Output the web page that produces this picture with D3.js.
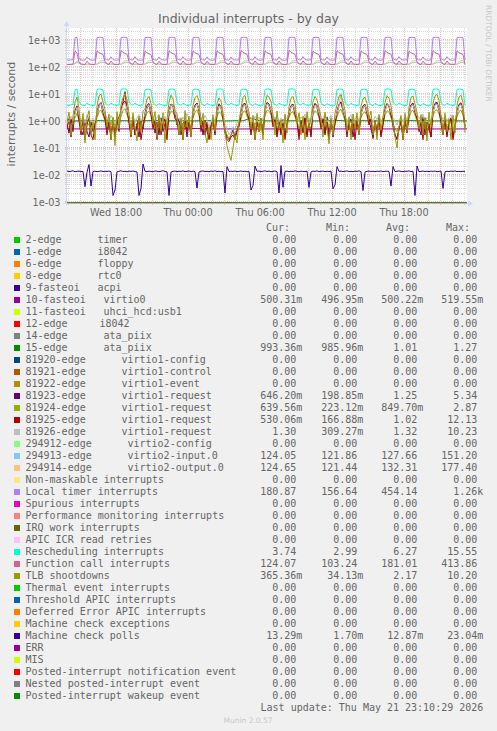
<!DOCTYPE html>
<html><head><meta charset="utf-8">
<script src="https://cdn.jsdelivr.net/npm/d3@7"></script>
<style>body{margin:0;background:#f0f0f0;overflow:hidden}svg{display:block}</style>
</head><body>
<svg id="chart" width="497" height="731"></svg>
<script>
// ---------------- DATA ----------------
const title = "Individual interrupts - by day";
const yUnit = "interrupts / second";
const yTickValues = [1e-3, 1e-2, 1e-1, 1, 10, 100, 1000];
const yTickLabels = ["1e-03", "1e-02", "1e-01", "1e+00", "1e+01", "1e+02", "1e+03"];
const xTickTimes = [new Date(2026,4,20,18), new Date(2026,4,21,0), new Date(2026,4,21,6), new Date(2026,4,21,12), new Date(2026,4,21,18)];
const xTickLabels = ["Wed 18:00", "Thu 00:00", "Thu 06:00", "Thu 12:00", "Thu 18:00"];
const lastUpdate = "Last update: Thu May 21 23:10:29 2026";

const legendNames = ["2-edge","1-edge","6-edge","8-edge","9-fasteoi","10-fasteoi","11-fasteoi","12-edge","14-edge","15-edge",
 "81920-edge","81921-edge","81922-edge","81923-edge","81924-edge","81925-edge","81926-edge","294912-edge","294913-edge","294914-edge",
 "Non-maskable interrupts","Local timer interrupts","Spurious interrupts","Performance monitoring interrupts","IRQ work interrupts",
 "APIC ICR read retries","Rescheduling interrupts","Function call interrupts","TLB shootdowns","Thermal event interrupts",
 "Threshold APIC interrupts","Deferred Error APIC interrupts","Machine check exceptions","Machine check polls","ERR","MIS",
 "Posted-interrupt notification event","Nested posted-interrupt event","Posted-interrupt wakeup event"];
const legendDescs = ["timer","i8042","floppy","rtc0","acpi","virtio0","uhci_hcd:usb1","i8042","ata_piix","ata_piix",
 "virtio1-config","virtio1-control","virtio1-event","virtio1-request","virtio1-request","virtio1-request","virtio1-request",
 "virtio2-config","virtio2-input.0","virtio2-output.0","","","","","","","","","","","","","","","","","","",""];
const legendCur = ["0.00","0.00","0.00","0.00","0.00","500.31m","0.00","0.00","0.00","993.36m","0.00","0.00","0.00","646.20m","639.56m","530.06m","1.30","0.00","124.05","124.65","0.00","180.87","0.00","0.00","0.00","0.00","3.74","124.07","365.36m","0.00","0.00","0.00","0.00","13.29m","0.00","0.00","0.00","0.00","0.00"];
const legendMin = ["0.00","0.00","0.00","0.00","0.00","496.95m","0.00","0.00","0.00","985.96m","0.00","0.00","0.00","198.85m","223.12m","166.88m","309.27m","0.00","121.86","121.44","0.00","156.64","0.00","0.00","0.00","0.00","2.99","103.24","34.13m","0.00","0.00","0.00","0.00","1.70m","0.00","0.00","0.00","0.00","0.00"];
const legendAvg = ["0.00","0.00","0.00","0.00","0.00","500.22m","0.00","0.00","0.00","1.01","0.00","0.00","0.00","1.25","849.70m","1.02","1.32","0.00","127.66","132.31","0.00","454.14","0.00","0.00","0.00","0.00","6.27","181.01","2.17","0.00","0.00","0.00","0.00","12.87m","0.00","0.00","0.00","0.00","0.00"];
const legendMax = ["0.00","0.00","0.00","0.00","0.00","519.55m","0.00","0.00","0.00","1.27","0.00","0.00","0.00","5.34","2.87","12.13","10.23","0.00","151.20","177.40","0.00","1.26k","0.00","0.00","0.00","0.00","15.55","413.86","10.20","0.00","0.00","0.00","0.00","23.04m","0.00","0.00","0.00","0.00","0.00"];

const palette = ["#00CC00","#0066B3","#FF8000","#FFCC00","#330099","#990099","#CCFF00","#FF0000","#808080","#008F00",
 "#00487D","#B35A00","#B38F00","#6B006B","#8FB300","#B30000","#BEBEBE","#80FF80","#80C9FF","#FFC080",
 "#FFE680","#AA80FF","#EE00CC","#FF8080","#666600","#FFBFFF","#00FFCC","#CC6699","#999900","#00CC00",
 "#0066B3","#FF8000","#FFCC00","#330099","#990099","#CCFF00","#FF0000","#808080","#008F00"];

// series sampled every 10 minutes (200 points)
const localTimer = [
 182,179,184,188,1220,1235,205,183,180,178,236,192,181,179,183,
 1240,1255,1250,1235,200,182,180,238,188,181,179,183,
 1245,1260,1252,1238,198,183,181,242,186,180,178,182,
 1235,1250,1248,1230,196,181,179,236,187,182,180,184,
 1250,1258,1255,1240,202,184,182,240,189,180,178,181,
 1242,1252,1249,1236,199,182,180,237,185,181,179,183,
 1238,1250,1246,1232,197,180,178,234,186,182,180,182,
 1246,1257,1253,1239,201,183,181,241,188,181,179,184,
 1240,1254,1250,1236,198,182,180,239,187,180,178,182,
 1248,1259,1255,1241,203,184,182,243,189,182,180,183,
 1236,1249,1245,1231,196,181,179,235,186,181,179,182,
 1244,1256,1251,1238,200,183,181,240,188,180,178,183,
 1241,1253,1249,1235,198,182,180,238,187,181,179,182,
 1247,1258,1254,1240,202,184,182,242,189,182,180,184,
 1239,1251,1247,1233,197,181,179,236,186,180,178,182,
 1245,1256,1252,1239,201,183,181,241,188,181,179,183,
 1243,1254,1250,1237,180.87];
const funcCall = [
 124,123,125,126,385,330,150,127,124,123,162,131,125,123,124,
 392,345,312,290,158,128,125,166,131,124,123,125,
 405,350,315,295,160,129,126,168,132,125,124,126,
 388,338,305,285,155,127,124,163,130,124,123,124,
 398,348,310,292,159,128,125,167,131,125,124,125,
 390,342,308,288,157,127,124,164,130,124,123,125,
 395,344,309,290,158,128,125,165,131,125,123,124,
 402,352,314,294,161,129,126,168,132,125,124,126,
 393,346,311,291,158,128,125,166,131,124,123,125,
 413,355,318,297,162,130,126,169,133,125,124,126,
 387,340,306,287,156,127,124,163,130,124,123,124,
 399,349,312,293,160,128,125,167,131,125,124,125,
 391,343,308,289,157,127,125,165,130,124,123,125,
 404,351,315,296,161,129,126,168,132,125,124,126,
 389,341,307,288,156,127,124,164,130,124,123,124,
 400,350,313,294,160,128,125,167,131,125,124,125,
 396,346,310,291,124.07];
const virtio2In = [
 124,125,124,126,132,146,138,127,125,124,126,125,124,125,124,
 126,134,148,151,140,129,125,127,125,124,125,124,
 125,133,146,150,139,128,125,126,125,124,125,124,
 126,135,147,149,141,129,126,127,125,124,125,125,
 125,134,148,151,140,128,125,126,124,125,124,125,
 126,133,146,150,139,129,125,127,125,124,125,124,
 125,134,147,150,140,128,126,126,125,124,125,125,
 126,135,148,151,141,129,125,127,125,124,125,124,
 125,133,146,149,139,128,125,126,124,125,124,125,
 126,134,147,151,140,129,126,127,125,124,125,124,
 125,133,146,150,139,128,125,126,125,124,125,125,
 126,135,148,151,141,129,125,127,125,124,125,124,
 125,134,147,150,140,128,126,126,124,125,124,125,
 126,133,146,149,139,129,125,127,125,124,125,124,
 125,134,148,151,140,128,125,126,125,124,125,125,
 126,135,147,150,141,129,126,127,125,124,125,124,
 125,134,147,150,124.05];
const virtio2Out = [
 125,124,126,125,140,170,150,128,125,126,125,124,125,126,125,
 128,150,172,176,160,134,126,129,126,125,126,125,
 127,148,170,174,158,133,126,128,125,126,125,126,
 128,151,173,177,161,135,127,129,126,125,126,125,
 127,149,171,175,159,133,126,128,126,125,125,126,
 128,150,172,176,160,134,126,129,125,126,126,125,
 127,148,170,173,158,132,125,128,126,125,125,126,
 128,151,173,177,161,135,127,129,126,125,126,125,
 127,149,171,175,159,133,126,128,125,126,125,126,
 128,150,172,176,160,134,126,129,126,125,126,125,
 127,148,170,174,158,133,126,128,126,125,125,126,
 128,151,173,177.4,161,135,127,129,125,126,126,125,
 127,149,171,175,159,133,126,128,126,125,125,126,
 128,150,172,176,160,134,126,129,126,125,126,125,
 127,148,170,173,158,132,125,128,125,126,125,126,
 128,151,173,176,161,135,127,129,126,125,126,125,
 127,149,171,175,124.65];
const resched = [
 3.8,3.7,3.9,4.1,14.2,15.0,5.2,3.9,3.8,3.7,4.6,4.0,3.8,3.7,3.8,
 14.5,15.2,15.0,14.3,5.0,3.9,3.8,4.5,4.1,3.8,3.7,3.9,
 14.8,15.5,15.3,14.6,5.1,4.0,3.8,4.6,4.0,3.7,3.8,3.9,
 14.2,15.0,14.8,14.0,4.9,3.9,3.7,4.4,4.0,3.8,3.6,3.8,
 14.6,15.3,15.1,14.4,5.0,3.9,3.8,4.5,4.1,3.7,3.8,3.9,
 14.4,15.1,14.9,14.2,4.9,3.8,3.7,4.5,4.0,3.8,3.7,3.8,
 14.7,15.4,15.2,14.5,5.1,4.0,3.9,4.6,4.1,3.8,3.7,3.9,
 14.3,15.0,14.8,14.1,4.9,3.9,3.7,4.4,4.0,3.7,3.6,3.8,
 14.6,15.3,15.1,14.4,5.0,3.9,3.8,4.5,4.1,3.8,3.7,3.9,
 14.9,15.55,15.3,14.6,5.2,4.0,3.9,4.6,4.1,3.8,3.8,3.9,
 14.2,14.9,14.7,14.0,4.8,3.8,3.7,4.4,3.9,3.7,3.6,3.8,
 14.5,15.2,15.0,14.3,5.0,3.9,3.8,4.5,4.0,3.8,3.7,3.8,
 14.4,15.1,14.9,14.2,4.9,3.9,3.7,4.5,4.0,3.7,3.7,3.9,
 14.7,15.4,15.2,14.5,5.1,4.0,3.8,4.6,4.1,3.8,3.7,3.8,
 14.3,15.0,14.8,14.1,4.9,3.8,3.7,4.4,4.0,3.7,3.6,3.8,
 14.6,15.3,15.1,14.4,5.0,3.9,3.8,4.5,4.1,3.8,3.7,3.9,
 14.5,15.2,15.0,14.3,3.74];
const tlb = [
 0.9,2.1,0.3,1.5,5.0,7.5,2.8,0.4,1.9,0.15,1.2,2.4,0.3,0.9,0.2,
 3.5,8.5,9.8,5.0,2.6,0.6,1.8,0.2,1.4,0.12,2.2,0.5,
 4.0,7.0,10.2,6.0,1.9,0.3,2.0,0.5,0.18,1.5,0.4,2.3,
 2.8,6.5,8.0,4.5,0.9,2.2,0.25,1.6,0.4,2.0,0.15,1.1,
 5.0,9.0,6.5,2.5,1.8,0.3,1.3,0.2,2.4,0.6,1.5,0.25,
 3.8,7.2,8.6,5.5,0.7,1.9,0.35,0.15,0.6,0.2,1.7,0.4,
 4.5,7.0,5.5,2.0,0.4,0.12,0.06,0.034,0.1,0.3,0.15,0.9,
 3.0,7.5,8.8,4.0,2.1,0.5,1.6,0.22,1.9,0.4,1.2,0.2,
 4.2,8.8,7.6,5.2,1.6,0.3,2.3,0.5,1.1,0.15,1.8,0.35,
 3.4,6.8,8.0,4.4,0.8,2.0,0.3,1.5,0.2,2.2,0.5,1.3,
 5.2,8.0,6.0,3.0,1.4,0.25,2.1,0.6,0.14,1.3,0.3,1.9,
 4.0,8.2,9.4,5.0,2.4,0.4,1.4,0.2,1.8,0.5,2.0,0.3,
 3.5,6.6,7.4,4.5,1.2,2.3,0.3,1.0,0.2,1.7,0.45,1.4,
 4.8,8.6,7.0,3.6,0.9,0.25,0.1,0.6,1.6,0.2,1.9,0.4,
 3.2,7.4,8.4,4.2,2.0,0.5,1.7,0.3,1.3,0.18,2.1,0.6,
 4.5,8.4,9.6,5.6,1.5,0.3,2.0,0.4,1.2,0.2,1.6,0.35,
 3.8,7.8,8.9,4.8,0.365];
const v81923 = [
 0.8,0.35,1.2,0.4,2.4,3.6,1.3,0.5,0.3,1.1,0.4,0.25,0.9,0.4,0.7,
 2.2,4.0,4.8,2.8,1.6,0.5,1.1,0.3,0.9,0.25,1.2,0.4,
 2.5,4.6,5.34,3.0,1.0,0.4,1.3,0.3,0.8,0.25,1.0,0.5,
 2.0,3.8,4.4,2.4,1.4,0.35,0.9,0.3,1.3,0.4,0.8,0.3,
 2.6,4.2,3.8,2.0,0.7,1.2,0.3,0.8,1.0,0.25,0.9,0.4,
 2.1,3.9,4.6,2.6,1.2,0.3,1.0,0.4,0.22,0.7,1.1,0.35,
 2.4,4.3,3.4,1.6,0.5,0.25,0.2,0.3,0.45,0.25,0.5,0.8,
 2.0,4.1,4.5,2.5,1.4,0.4,1.1,0.3,0.9,0.5,1.2,0.3,
 2.7,4.8,4.2,2.6,0.9,1.3,0.3,1.0,0.35,1.1,0.3,0.8,
 2.2,3.7,4.2,2.3,1.2,0.3,0.9,0.4,1.3,0.3,0.8,0.25,
 2.9,4.5,3.7,2.0,0.7,1.2,0.35,1.4,0.3,1.1,0.25,0.8,
 2.3,4.2,5.1,2.8,1.4,0.35,0.8,1.2,0.25,0.7,1.0,0.3,
 2.1,3.6,4.1,2.4,1.3,0.5,0.25,1.0,0.4,1.2,0.3,0.8,
 2.8,4.4,3.6,2.0,0.6,0.3,0.22,0.5,0.9,0.25,1.1,0.4,
 2.0,4.0,4.6,2.5,1.3,0.6,0.3,1.4,0.3,0.9,0.5,0.25,
 2.6,4.5,4.9,2.9,1.4,0.35,1.1,0.3,0.8,1.3,0.25,0.7,
 2.3,4.1,4.7,2.7,0.646];
const v81924 = [
 0.7,0.9,0.5,0.8,1.3,1.9,1.0,0.6,0.8,0.45,0.9,0.7,0.55,0.8,0.65,
 1.3,2.2,2.5,1.6,1.0,0.7,0.5,0.9,0.6,0.8,0.45,0.75,
 1.4,2.4,2.87,1.7,1.1,0.6,0.85,0.5,0.7,0.9,0.55,0.65,
 1.2,2.0,2.3,1.5,0.9,0.5,0.75,1.0,0.45,0.7,0.85,0.5,
 1.5,2.3,2.1,1.4,0.8,0.7,0.4,0.8,0.6,1.0,0.5,0.7,
 1.3,2.1,2.6,1.6,0.9,0.5,0.9,0.6,0.35,0.55,0.8,0.6,
 1.4,2.2,1.9,1.1,0.5,0.3,0.22,0.3,0.4,0.35,0.5,0.7,
 1.2,2.1,2.4,1.5,1.0,0.75,0.5,0.85,0.6,0.8,0.45,0.8,
 1.5,2.5,2.3,1.7,1.1,0.6,0.9,0.5,0.75,0.45,0.85,0.7,
 1.3,2.0,2.2,1.4,0.9,0.5,0.8,0.6,1.0,0.55,0.75,0.5,
 1.6,2.4,2.0,1.3,0.8,0.6,1.0,0.5,0.7,0.9,0.45,0.7,
 1.4,2.3,2.7,1.7,1.0,0.55,0.75,0.95,0.5,0.65,0.85,0.6,
 1.3,1.9,2.2,1.5,0.9,0.7,0.45,0.85,0.6,0.95,0.55,0.75,
 1.6,2.4,2.1,1.3,0.8,0.5,0.4,0.6,0.8,0.5,0.9,0.6,
 1.2,2.2,2.5,1.6,0.95,0.75,0.55,1.0,0.5,0.8,0.65,0.5,
 1.5,2.4,2.6,1.8,1.05,0.6,0.85,0.55,0.7,0.95,0.5,0.7,
 1.4,2.2,2.5,1.6,0.64];
const v81925 = [
 0.5,1.2,0.25,0.9,2.0,3.2,1.0,0.3,1.1,0.2,0.7,1.4,0.3,0.2,0.8,
 1.6,3.5,4.2,2.0,1.1,0.3,0.9,0.2,1.2,0.3,0.8,1.4,
 2.2,5.0,12.13,2.6,0.8,0.25,1.2,0.3,0.7,1.3,0.2,0.6,
 1.4,3.0,3.8,1.7,0.5,1.1,0.2,1.4,0.3,0.8,1.2,0.2,
 2.0,4.0,3.2,1.2,1.0,0.3,0.8,0.2,1.3,0.4,0.9,0.25,
 1.7,3.4,4.5,2.2,0.4,1.0,0.3,0.9,0.2,0.6,1.1,0.3,
 1.8,3.8,3.0,1.2,0.35,0.2,0.17,0.25,0.3,0.2,0.4,0.6,
 1.5,3.6,4.0,1.9,1.1,0.3,1.0,0.2,0.9,0.4,1.2,0.3,
 2.2,4.4,3.6,2.0,0.6,1.3,0.25,0.8,0.3,1.1,0.2,0.7,
 1.6,3.3,3.7,1.7,0.9,0.2,1.0,0.35,1.3,0.25,0.8,0.3,
 2.4,4.2,3.1,1.5,0.5,1.2,0.3,0.9,0.2,1.0,0.4,0.8,
 1.8,3.9,4.8,2.3,1.2,0.25,0.9,0.3,1.1,0.2,1.0,0.4,
 1.7,3.1,3.6,1.8,0.7,1.2,0.22,1.0,0.3,1.3,0.25,0.7,
 2.3,4.1,3.3,1.6,0.9,0.3,0.2,0.5,1.0,0.2,1.1,0.35,
 1.6,3.7,4.1,2.0,1.2,0.4,0.9,0.2,1.3,0.3,0.8,0.25,
 2.1,4.0,4.4,2.4,0.8,0.3,1.1,0.25,0.9,1.2,0.2,0.6,
 1.8,3.8,4.2,2.2,0.53];
const v81926 = [
 1.2,0.9,1.5,1.0,1.9,3.2,1.6,1.1,1.4,0.8,1.7,1.2,0.9,1.3,1.0,
 1.8,3.4,4.3,2.5,1.6,1.3,0.9,1.6,1.1,0.8,1.4,1.0,
 2.0,3.8,4.6,2.7,1.5,1.2,1.5,0.9,1.3,1.7,1.0,1.2,
 1.7,3.1,3.9,2.2,1.4,1.0,1.3,1.8,0.8,1.1,1.5,0.9,
 2.1,4.0,3.5,2.0,1.3,1.2,0.8,1.4,1.0,1.9,1.1,1.3,
 1.8,3.4,4.2,2.6,1.2,1.0,1.6,1.1,0.6,0.9,1.4,1.0,
 2.0,3.6,3.2,1.7,0.8,0.5,0.31,0.4,0.6,0.5,0.8,1.1,
 1.7,3.5,4.0,2.4,1.5,1.3,0.9,1.5,1.0,1.4,0.8,1.3,
 2.2,4.3,3.8,2.5,1.6,1.1,1.6,0.9,1.3,0.8,1.5,1.2,
 1.9,3.3,3.8,2.3,1.4,0.9,1.4,1.1,1.8,1.0,1.3,0.8,
 2.3,3.9,3.4,2.0,1.2,1.2,1.9,0.9,1.2,1.6,0.8,1.2,
 2.0,3.8,10.23,2.6,1.5,1.0,1.3,1.7,0.8,1.2,1.5,1.0,
 1.8,3.2,3.7,2.3,1.4,1.3,0.9,1.5,1.1,1.7,1.0,1.3,
 2.2,4.0,3.5,2.1,1.3,1.0,0.7,1.1,1.4,0.9,1.6,1.1,
 1.7,3.5,4.0,2.4,1.5,1.4,1.0,1.8,0.9,1.3,1.2,0.9,
 2.1,3.9,4.2,2.7,1.6,1.1,1.5,1.0,1.3,1.7,0.9,1.2,
 1.9,3.6,4.0,2.5,1.30];
const mcPolls = [
 0.0138,0.0132,0.0135,0.0141,0.0129,0.0134,0.0137,0.0131,0.0133,0.0036,0.0125,0.024,0.0038,0.0132,0.0136,0.0130,0.0134,0.0139,0.0131,0.0135,
 0.0133,0.0137,0.0130,0.0017,0.0027,0.0128,0.0135,0.0140,0.0132,0.0134,0.0129,0.0136,0.0133,0.0138,0.0131,0.0127,0.0017,0.0031,0.025,0.0134,
 0.0131,0.0136,0.0133,0.0129,0.0138,0.0134,0.0130,0.0135,0.0141,0.0132,0.0128,0.0017,0.0126,0.0134,0.0137,0.0131,0.0135,0.0133,0.0139,0.0130,
 0.0134,0.0137,0.0131,0.0136,0.0129,0.0032,0.0127,0.0135,0.0138,0.0132,0.0134,0.0130,0.0136,0.0133,0.0140,0.0131,0.0135,0.0129,0.0133,0.0021,
 0.0200,0.0131,0.0136,0.0133,0.0138,0.0130,0.0134,0.0137,0.0132,0.0135,0.0129,0.0134,0.0027,0.0040,0.0210,0.0133,0.0137,0.0131,0.0135,0.0139,
 0.0132,0.0136,0.0130,0.0134,0.0138,0.0131,0.0021,0.0220,0.0034,0.0133,0.0137,0.0130,0.0135,0.0132,0.0139,0.0134,0.0129,0.0136,0.0133,0.0131,
 0.0135,0.0034,0.0128,0.0136,0.0133,0.0139,0.0131,0.0134,0.0137,0.0130,0.0135,0.0132,0.0136,0.0030,0.0042,0.0200,0.0133,0.0137,0.0131,0.0135,
 0.0138,0.0132,0.0134,0.0130,0.0136,0.0133,0.0139,0.0131,0.0026,0.0127,0.0134,0.0137,0.0132,0.0135,0.0130,0.0136,0.0133,0.0138,0.0131,0.0134,
 0.0136,0.0132,0.0038,0.0200,0.0131,0.0135,0.0138,0.0133,0.0130,0.0136,0.0134,0.0139,0.0131,0.0135,0.0017,0.0210,0.0130,0.0134,0.0137,0.0132,
 0.0135,0.0131,0.0136,0.0133,0.0138,0.0130,0.0134,0.0137,0.0031,0.0128,0.0135,0.0132,0.0136,0.0133,0.0139,0.0131,0.0134,0.0130,0.0135,0.01329];
// sampled every 40 minutes
const ata15 = [
 1.00,0.99,1.01,1.00,1.02,0.99,1.00,1.01,0.99,1.00,
 1.01,1.03,0.99,1.00,1.01,1.00,0.99,1.02,1.01,1.00,
 0.99,1.01,1.00,1.27,1.02,1.00,0.99,1.01,1.00,1.02,
 1.00,0.99,1.01,1.00,1.03,0.99,1.00,1.01,0.99,1.00,
 1.01,1.00,0.99,1.02,1.00,1.01,0.99,1.00,1.01,0.993,0.993];
// sampled every 80 minutes
const virtio0 = [0.500,0.501,0.499,0.500,0.502,0.500,0.498,0.500,0.5196,0.500,0.501,0.499,0.500,
 0.500,0.502,0.499,0.500,0.501,0.500,0.498,0.500,0.501,0.500,0.499,0.500,0.5003];
// all-zero series (start and end samples)
const zeroSeries = [0, 0];

// ---------------- CHART ----------------
const W = 497, H = 731;
const X0 = 67, X1 = 467, YT = 28, YB = 203.5;
const tStart = new Date(2026,4,20,13,57,30);
const tEnd = new Date(+tStart + 2000*60000);
const x = d3.scaleTime().domain([tStart, tEnd]).range([X0, X1]);
const yMin = Math.pow(10, -3.0668), yMax = Math.pow(10, 3.4453);
const y = d3.scaleLog().domain([yMin, yMax]).range([YB, YT]);

const seriesByIndex = {
  5: {v: virtio0, step: 80}, 9: {v: ata15, step: 40},
  13: {v: v81923, step: 10}, 14: {v: v81924, step: 10}, 15: {v: v81925, step: 10}, 16: {v: v81926, step: 10},
  18: {v: virtio2In, step: 10}, 19: {v: virtio2Out, step: 10}, 21: {v: localTimer, step: 10},
  26: {v: resched, step: 10}, 27: {v: funcCall, step: 10}, 28: {v: tlb, step: 10}, 33: {v: mcPolls, step: 10}
};

const SANS = "'DejaVu Sans', Verdana, sans-serif";
const MONO = "'DejaVu Sans Mono', monospace";
const FONT = "#666666";
const svg = d3.select("#chart");
svg.append("rect").attr("width", W).attr("height", H).attr("fill", "#f0f0f0");
svg.append("rect").attr("x", X0).attr("y", YT).attr("width", X1 - X0).attr("height", YB - YT).attr("fill", "#ffffff");

// grid
const grid = svg.append("g").attr("shape-rendering", "crispEdges");
const minorStyle = s => s.attr("stroke", "#8c8c8c").attr("stroke-opacity", 0.32).attr("stroke-dasharray", "1,1");
const majorStyle = s => s.attr("stroke", "#de5050").attr("stroke-opacity", 0.38).attr("stroke-dasharray", "1,1");
const minorY = [];
for (let k = -4; k <= 3; k++) for (let m = 2; m <= 9; m++) { const v = m * Math.pow(10, k); if (v > yMin && v < yMax) minorY.push(v); }
grid.selectAll(".hmin").data(minorY).join("line")
  .attr("x1", X0 - 2).attr("x2", X1).attr("y1", d => Math.round(y(d)) - 0.5).attr("y2", d => Math.round(y(d)) - 0.5).call(minorStyle);
const hours1 = x.ticks(d3.timeHour.every(1)).filter(d => d.getHours() % 3 !== 0);
const hours3 = x.ticks(d3.timeHour.every(3));
grid.selectAll(".vmin").data(hours1).join("line")
  .attr("x1", d => Math.round(x(d)) + 0.5).attr("x2", d => Math.round(x(d)) + 0.5).attr("y1", YT).attr("y2", YB + 2).call(minorStyle);
grid.selectAll(".vmaj").data(hours3).join("line")
  .attr("x1", d => Math.round(x(d)) + 0.5).attr("x2", d => Math.round(x(d)) + 0.5).attr("y1", YT).attr("y2", YB + 2).call(majorStyle);
grid.selectAll(".hmaj").data(yTickValues).join("line")
  .attr("x1", X0 - 2).attr("x2", X1).attr("y1", d => Math.round(y(d)) - 0.5).attr("y2", d => Math.round(y(d)) - 0.5).call(majorStyle);

// data lines
const defs = svg.append("defs");
defs.append("clipPath").attr("id", "plotclip").append("rect").attr("x", X0).attr("y", YT).attr("width", X1 - X0).attr("height", YB - YT + 0.5);
const plot = svg.append("g").attr("clip-path", "url(#plotclip)");
for (let i = 0; i < legendNames.length; i++) {
  const s = seriesByIndex[i] || {v: zeroSeries, step: 2000};
  const line = d3.line()
    .x((d, j) => x(new Date(+tStart + j * s.step * 60000)))
    .y(d => d > 0 ? y(Math.max(d, yMin)) : YB - 0.5);
  plot.append("path").datum(s.v).attr("d", line).attr("fill", "none")
    .attr("stroke", palette[i]).attr("stroke-width", 1).attr("stroke-linejoin", "round");
}

// axes lines & arrows
const AX = "#CFD6F8";
svg.append("line").attr("x1", X0 - 0.5).attr("x2", X0 - 0.5).attr("y1", YB + 2).attr("y2", 24).attr("stroke", AX);
svg.append("path").attr("d", `M${X0-3.5},26 L${X0+2.5},26 L${X0-0.5},21 Z`).attr("fill", AX);
svg.append("line").attr("x1", X0 - 4).attr("x2", X1 + 3).attr("y1", YB).attr("y2", YB).attr("stroke", AX).attr("stroke-opacity", 0.7);
svg.append("path").attr("d", `M${X1+1},${YB-3} L${X1+1},${YB+3} L${X1+6},${YB} Z`).attr("fill", AX);

// axis labels via d3 axes
const yAxis = svg.append("g").attr("transform", `translate(${X0},0)`)
  .call(d3.axisLeft(y).tickValues(yTickValues).tickFormat((d, i) => yTickLabels[i]).tickSize(0).tickPadding(6.5));
yAxis.select(".domain").remove();
yAxis.selectAll("text").attr("font-family", SANS).attr("font-size", 9.7).attr("fill", FONT).attr("dy", "0.36em");
const xAxis = svg.append("g").attr("transform", `translate(0,${YB})`)
  .call(d3.axisBottom(x).tickValues(xTickTimes).tickFormat((d, i) => xTickLabels[i]).tickSize(0).tickPadding(5.6));
xAxis.select(".domain").remove();
xAxis.selectAll("text").attr("font-family", SANS).attr("font-size", 9.7).attr("fill", FONT);

// titles
svg.append("text").attr("x", 248.5).attr("y", 23).attr("text-anchor", "middle").attr("font-family", SANS)
  .attr("font-size", 12.5).attr("fill", FONT).text(title);
svg.append("text").attr("transform", "translate(15,114) rotate(-90)").attr("text-anchor", "middle").attr("font-family", SANS)
  .attr("font-size", 11.1).attr("fill", FONT).text(yUnit);
svg.append("text").attr("transform", "translate(485.5,5) rotate(90)").attr("font-family", SANS)
  .attr("font-size", 7.5).attr("fill", "#c8c8c8").text("RRDTOOL / TOBI OETIKER");

// legend
const leg = svg.append("g").attr("font-family", MONO).attr("font-size", 10).attr("fill", FONT);
const headers = ["Cur:", "Min:", "Avg:", "Max:"];
const headerX = [266, 326, 386, 446];
headers.forEach((h, j) => leg.append("text").attr("x", headerX[j]).attr("y", 231).text(h));
const colRight = [302.3, 363.3, 423.3, 483.3];
const descX = i => i <= 4 ? 97.5 : (i === 7 ? 99.5 : (i <= 9 ? 103.5 : (i <= 16 ? 121.5 : 127.5)));
legendNames.forEach((name, i) => {
  const by = 243 + 12 * i;
  leg.append("rect").attr("x", 14).attr("y", by - 6).attr("width", 6).attr("height", 6).attr("fill", palette[i]);
  leg.append("text").attr("x", 25.5).attr("y", by).text(name);
  if (legendDescs[i]) leg.append("text").attr("x", descX(i)).attr("y", by).text(legendDescs[i]);
  [legendCur[i], legendMin[i], legendAvg[i], legendMax[i]].forEach((val, j) => {
    const suffix = /[mk]$/.test(val);
    leg.append("text").attr("x", colRight[j] - (suffix ? 0 : 6)).attr("y", by).attr("text-anchor", "end").text(val);
  });
});
leg.append("text").attr("x", 483.3).attr("y", 711).attr("text-anchor", "end").text(lastUpdate);
svg.append("text").attr("x", 248).attr("y", 722.5).attr("text-anchor", "middle").attr("font-family", SANS)
  .attr("font-size", 7.5).attr("fill", "#c8c8c8").text("Munin 2.0.57");
</script>
</body></html>
